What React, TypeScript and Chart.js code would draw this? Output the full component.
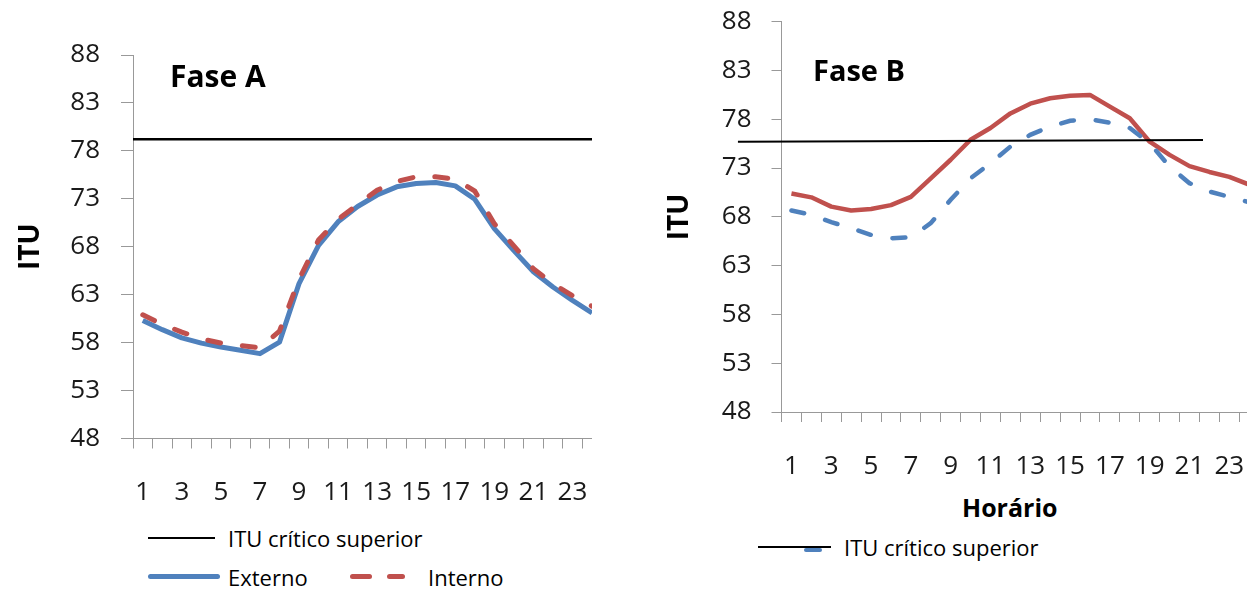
import React, { useEffect, useRef } from 'react';
import { Chart, registerables } from 'chart.js';

Chart.register(...registerables);

// ---------- data ----------
const hours = [1, 2, 3, 4, 5, 6, 7, 8, 9, 10, 11, 12, 13, 14, 15, 16, 17, 18, 19, 20, 21, 22, 23, 24];
const yTickValues = [48, 53, 58, 63, 68, 73, 78, 83, 88];

// Fase A
const faseAExterno = [60.3, 59.35, 58.5, 57.95, 57.55, 57.2, 56.85, 58.05, 64.15, 68.15, 70.6, 72.2, 73.4, 74.25, 74.6, 74.7, 74.35, 72.95, 69.9, 67.6, 65.4, 63.8, 62.4, 61.1];
const faseAInterno = [60.9, 59.9, 59.1, 58.4, 57.95, 57.7, 57.45, 59.2, 64.6, 68.7, 70.85, 72.4, 73.9, 74.8, 75.3, 75.3, 75.05, 73.8, 70.4, 68.1, 65.7, 64.15, 62.9, 61.8];
const faseACriticoHoras = [0.5, 24];
const faseACritico = [79.2, 79.2];

// Fase B
const faseBSolida = [70.4, 70.0, 69.05, 68.65, 68.8, 69.2, 70.05, 71.95, 73.85, 75.9, 77.1, 78.6, 79.6, 80.15, 80.4, 80.5, 79.3, 78.1, 75.7, 74.35, 73.2, 72.6, 72.1, 71.3];
const faseBTracejada = [68.65, 68.2, 67.45, 66.85, 66.15, 65.8, 65.9, 67.35, 69.75, 71.95, 73.5, 75.2, 76.4, 77.25, 77.85, 78.0, 77.65, 77.1, 75.55, 73.15, 71.45, 70.6, 70.05, 69.5];
const faseBCriticoHoras = [-1.69, 21.68];
const faseBCritico = [75.7, 75.88];

const BLUE = '#4F81BD';
const RED = '#C0504D';
const AXIS = '#999999';
const FONT = "'Open Sans', sans-serif";

const toPoints = (xs: number[], ys: number[]) => xs.map((x, i) => ({ x, y: ys[i] }));

type Cfg = {
  width: number;
  height: number;
  padTop: number;
  yWidth: number;
  xHeight: number;
  xMax: number;
  yTickLen: number;
  yPad: number;
  xPad: number;
  titlePad: number;
  datasets: any[];
};

function LineChart(props: Cfg & { left: number }) {
  const ref = useRef<HTMLCanvasElement>(null);
  useEffect(() => {
    const p = props;
    const chart = new Chart(ref.current as HTMLCanvasElement, {
      type: 'line',
      data: { datasets: p.datasets },
      options: {
        animation: false,
        responsive: false,
        parsing: false as any,
        layout: { padding: { top: p.padTop, left: 0, right: 0, bottom: 0 } },
        plugins: { legend: { display: false }, tooltip: { enabled: false } },
        elements: { point: { radius: 0 } },
        scales: {
          x: {
            type: 'linear',
            min: 0.5,
            max: p.xMax,
            offset: false,
            afterBuildTicks: (s: any) => {
              s.ticks = hours.filter((h) => h <= s.max).map((v) => ({ value: v }));
            },
            afterFit: (s: any) => {
              s.height = p.xHeight;
              s.paddingLeft = 0;
              s.paddingRight = 0;
            },
            grid: { offset: true, drawOnChartArea: false, drawTicks: true, tickLength: 10, color: AXIS, lineWidth: 1 },
            border: { display: true, color: AXIS, width: 1 },
            ticks: {
              autoSkip: false,
              maxRotation: 0,
              minRotation: 0,
              padding: p.xPad,
              color: '#1a1a1a',
              font: { family: FONT, size: 26 },
              callback: (v: any) => (Number(v) % 2 === 1 ? String(v) : ''),
            },
          },
          y: {
            type: 'linear',
            min: 48,
            max: 88,
            afterBuildTicks: (s: any) => {
              s.ticks = yTickValues.map((v) => ({ value: v }));
            },
            afterFit: (s: any) => {
              s.width = p.yWidth;
              s.paddingTop = 0;
              s.paddingBottom = 0;
            },
            grid: { drawOnChartArea: false, drawTicks: true, tickLength: p.yTickLen, color: AXIS, lineWidth: 1 },
            border: { display: true, color: AXIS, width: 1 },
            ticks: {
              padding: p.yPad,
              color: '#1a1a1a',
              font: { family: FONT, size: 26 },
              callback: (v: any) => String(v),
            },
            title: {
              display: true,
              text: 'ITU',
              color: '#000',
              font: { family: FONT, size: 28, weight: 'bold' },
              padding: { top: p.titlePad, bottom: 0 },
            },
          },
        },
      } as any,
    });
    return () => chart.destroy();
  }, []);
  return (
    <canvas
      ref={ref}
      width={props.width}
      height={props.height}
      style={{ position: 'absolute', left: props.left, top: 0, width: props.width, height: props.height }}
    />
  );
}

const txt = (s: any): React.CSSProperties => ({
  position: 'absolute',
  fontFamily: FONT,
  lineHeight: 1,
  whiteSpace: 'nowrap',
  color: '#000',
  ...s,
});

const bar = (left: number, top: number, width: number, h: number, color: string, round = false): React.CSSProperties => ({
  position: 'absolute',
  left,
  top: top - h / 2,
  width,
  height: h,
  background: color,
  borderRadius: round ? h / 2 : 0,
});

export default function App() {
  const dsA = [
    {
      label: 'ITU crítico superior',
      data: toPoints(faseACriticoHoras, faseACritico),
      borderColor: '#000',
      borderWidth: 2.5,
      clip: false,
    },
    {
      label: 'Interno',
      data: toPoints(hours, faseAInterno),
      borderColor: RED,
      borderWidth: 5,
      borderDash: [13, 22],
      borderCapStyle: 'round',
    },
    {
      label: 'Externo',
      data: toPoints(hours, faseAExterno),
      borderColor: BLUE,
      borderWidth: 5,
      borderJoinStyle: 'round',
    },
  ];
  const dsB = [
    {
      label: 'ITU crítico superior',
      data: toPoints(faseBCriticoHoras, faseBCritico),
      borderColor: '#000',
      borderWidth: 2,
      clip: false,
    },
    {
      label: 'Externo',
      data: toPoints(hours, faseBTracejada),
      borderColor: BLUE,
      borderWidth: 4.5,
      borderDash: [13, 22],
      borderCapStyle: 'round',
    },
    {
      label: 'Interno',
      data: toPoints(hours, faseBSolida),
      borderColor: RED,
      borderWidth: 4.5,
      borderJoinStyle: 'round',
    },
  ];

  return (
    <div style={{ position: 'absolute', left: 0, top: 0, width: 1247, height: 592, overflow: 'hidden', background: '#fff' }}>
      <LineChart
        left={0}
        width={592}
        height={520}
        padTop={55}
        yWidth={133}
        xHeight={81.5}
        xMax={24}
        yTickLen={12}
        yPad={21}
        xPad={28}
        titlePad={14}
        datasets={dsA}
      />
      <LineChart
        left={640}
        width={607}
        height={480}
        padTop={21.7}
        yWidth={141.5}
        xHeight={68}
        xMax={23.89}
        yTickLen={10}
        yPad={20}
        xPad={29}
        titlePad={23}
        datasets={dsB}
      />

      <div style={txt({ left: 170, top: 60.5, fontSize: 30, fontWeight: 700 })}>Fase A</div>
      <div style={txt({ left: 813, top: 54.5, fontSize: 29, fontWeight: 700 })}>Fase B</div>
      <div style={txt({ left: 962, top: 494.5, fontSize: 25, fontWeight: 700 })}>Horário</div>

      {/* Legenda Fase A */}
      <div style={bar(148, 538.3, 67, 2, '#000')} />
      <div style={txt({ left: 228, top: 526.5, fontSize: 22 })}>ITU crítico superior</div>
      <div style={bar(148, 576.7, 72, 5, BLUE, true)} />
      <div style={txt({ left: 228, top: 565.5, fontSize: 22 })}>Externo</div>
      <div style={bar(350, 576.7, 22, 5, RED, true)} />
      <div style={bar(387, 576.7, 18, 5, RED, true)} />
      <div style={txt({ left: 428, top: 565.5, fontSize: 22 })}>Interno</div>

      {/* Legenda Fase B */}
      <div style={bar(758, 547.3, 73, 2, '#000')} />
      <div style={bar(804, 550, 18, 4, BLUE, true)} />
      <div style={txt({ left: 844, top: 535.5, fontSize: 22 })}>ITU crítico superior</div>
    </div>
  );
}
